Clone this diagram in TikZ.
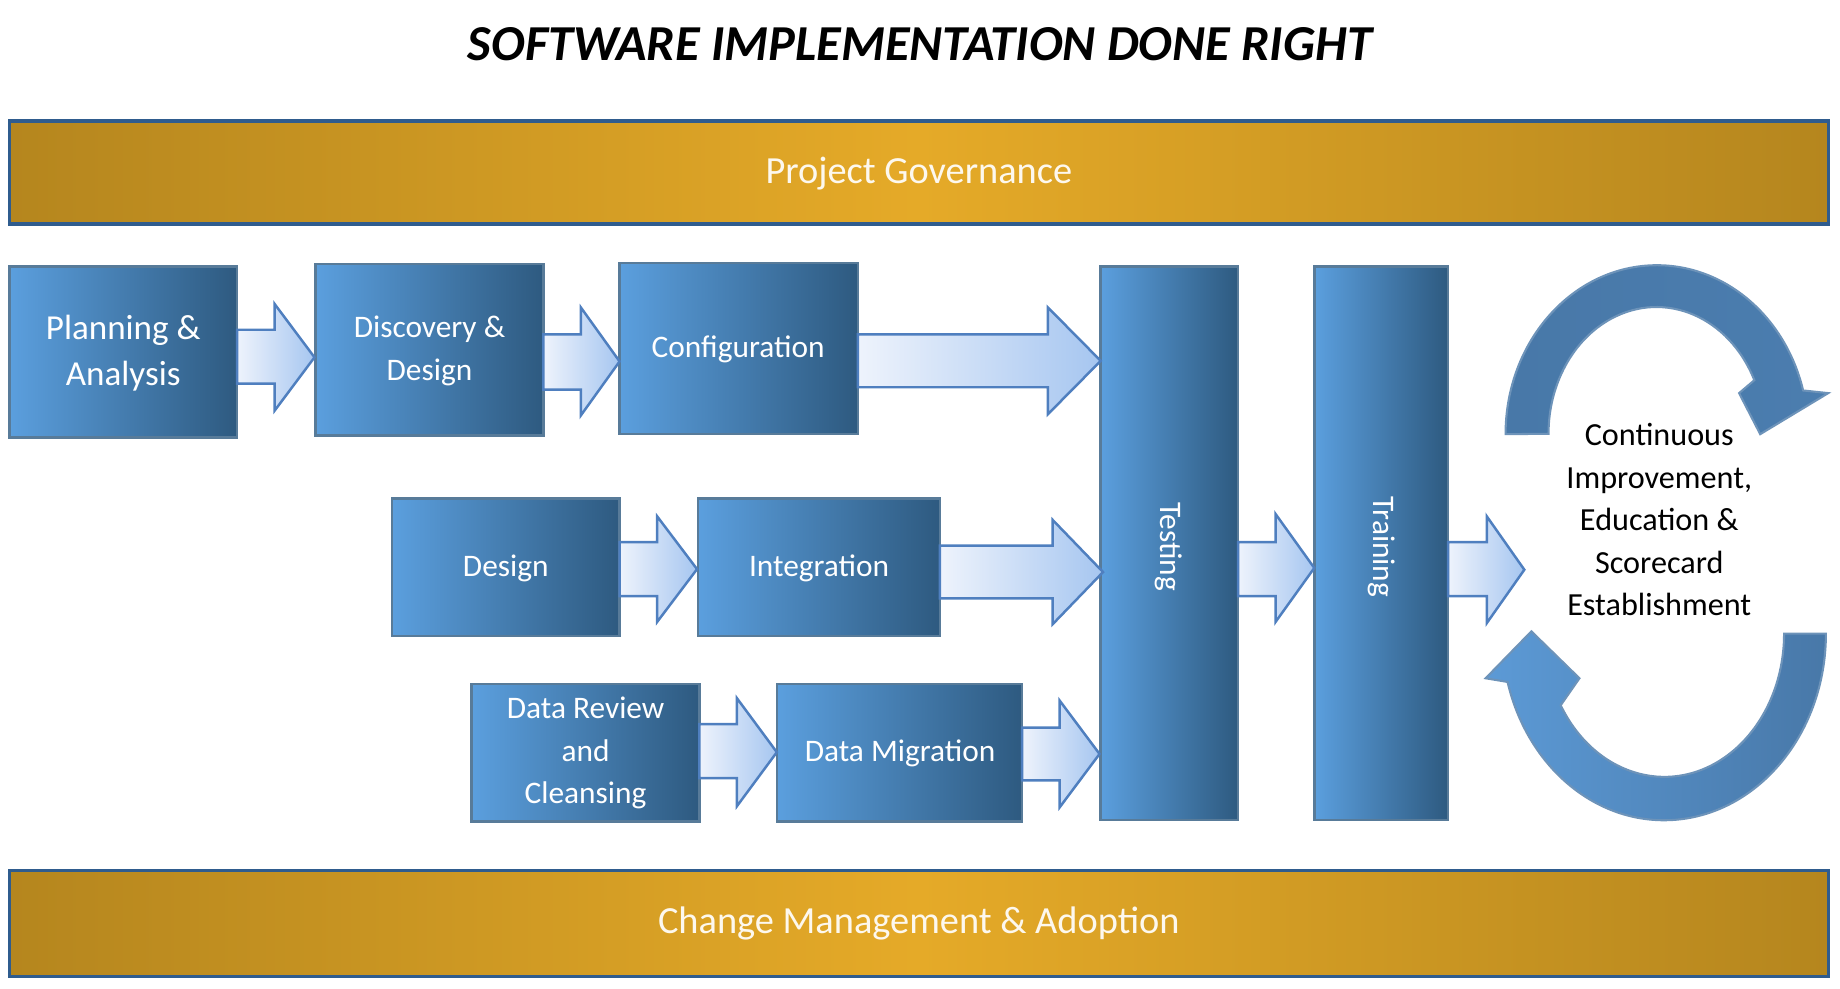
\documentclass[tikz,border=0pt]{standalone}
\usepackage{fontspec}
\setmainfont{Carlito}
\begin{document}
\definecolor{goldD}{HTML}{B5861E}
\definecolor{goldL}{HTML}{E5AA28}
\definecolor{bblue}{HTML}{2F5C8E}
\definecolor{boxL}{HTML}{5B9FDE}
\definecolor{boxD}{HTML}{2E5A80}
\definecolor{arrL}{HTML}{EEF3FC}
\definecolor{arrD}{HTML}{A6C6F0}
\definecolor{arrB}{HTML}{4F7FBF}
\definecolor{cycD}{HTML}{4878A8}
\definecolor{cycL}{HTML}{5C9AD6}
\tikzset{
 bar/.style={draw=bblue,line width=0.8pt,left color=goldD,right color=goldD,middle color=goldL},
 bartext/.style={text=white!92!goldL,font=\fontsize{9.3}{11}\selectfont},
 stepbox/.style={draw=boxD!80!white,line width=0.6pt,left color=boxL,right color=boxD},
 boxtext/.style={text=white,align=center,font=\fontsize{7.6}{10.3}\selectfont},
 barrow/.style={draw=arrB,line width=0.6pt,left color=arrL,right color=arrD},
}
\newcommand{\blockarr}[7]{% x1 x2 headstart shaft-y1 shaft-y2 head-y1 head-y2
 \path[barrow] (#1,#4) -- (#3,#4) -- (#3,#6) -- (#2,{(#6+#7)/2}) -- (#3,#7) -- (#3,#5) -- (#1,#5) -- cycle;}
\begin{tikzpicture}[x=0.01cm,y=-0.01cm]
\useasboundingbox (0,0) rectangle (1568,842);
\node (title) at (784,38) {\fontsize{12.2}{14}\selectfont\bfseries\itshape SOFTWARE IMPLEMENTATION DONE RIGHT};
\path[bar] (8,103) rectangle (1558,191);
\node[bartext] (pg) at (783,148) {Project Governance};
\path[bar] (8,742) rectangle (1558,832);
\node[bartext] (cm) at (783,787) {Change Management \& Adoption};
% boxes
\path[stepbox] (8,227) rectangle (202,373);
\node[boxtext,font=\fontsize{8.5}{11.3}\selectfont] (pa) at (105,301) {Planning \&\\Analysis};
\path[stepbox] (269,225) rectangle (463,371);
\node[boxtext] (dd) at (366,299) {Discovery \&\\Design};
\path[stepbox] (528,224) rectangle (731,370);
\node[boxtext] (cf) at (629,298) {Configuration};
\path[stepbox] (334,425) rectangle (528,542);
\node[boxtext] (ds) at (431,484) {Design};
\path[stepbox] (595,425) rectangle (801,542);
\node[boxtext] (ig) at (698,484) {Integration};
\path[stepbox] (402,583) rectangle (596,700);
\node[boxtext] (dr) at (499,642) {Data Review\\and\\Cleansing};
\path[stepbox] (662,583) rectangle (871,700);
\node[boxtext] (dm) at (767,642) {Data Migration};
\path[stepbox] (938,227) rectangle (1055,699);
\node[boxtext,rotate=-90] (ts) at (996,466) {Testing};
\path[stepbox] (1120,227) rectangle (1234,699);
\node[boxtext,rotate=-90] (tr) at (1177,466) {Training};
% block arrows
\blockarr{202}{268}{234}{281}{327}{259}{350}
\blockarr{463}{528}{495}{285}{332}{262}{354}
\blockarr{731}{938}{893}{285}{330}{262}{353}
\blockarr{528}{594}{560}{462}{508}{440}{530}
\blockarr{801}{940}{897}{465}{510}{443}{532}
\blockarr{596}{662}{628}{617}{663}{595}{687}
\blockarr{871}{937}{903}{620}{665}{597}{688}
\blockarr{1055}{1120}{1087}{462}{508}{438}{530}
\blockarr{1234}{1299}{1267}{462}{508}{440}{531}
% cycle arrows
\path[draw=cycD!80!white,line width=0.5pt,left color=cycD,right color=cycD!85!cycL]
 (1283,370) arc[start angle=180,end angle=345,x radius=129,y radius=144]
 -- (1558,335) -- (1500,370) -- (1482,335) -- (1495,324)
 arc[start angle=335,end angle=180,x radius=92,y radius=108] -- cycle;
\path[draw=cycD!80!white,line width=0.5pt,left color=cycL,right color=cycD]
 (1556,540) arc[start angle=0,end angle=165,x radius=138,y radius=159]
 -- (1266,578) -- (1305,538) -- (1346,578) -- (1330,601)
 arc[start angle=150,end angle=0,x radius=102,y radius=122] -- cycle;
\node[align=center,font=\fontsize{7.8}{10.3}\selectfont] (ci) at (1414,443) {Continuous\\Improvement,\\Education \&\\Scorecard\\Establishment};
\end{tikzpicture}
\end{document}
